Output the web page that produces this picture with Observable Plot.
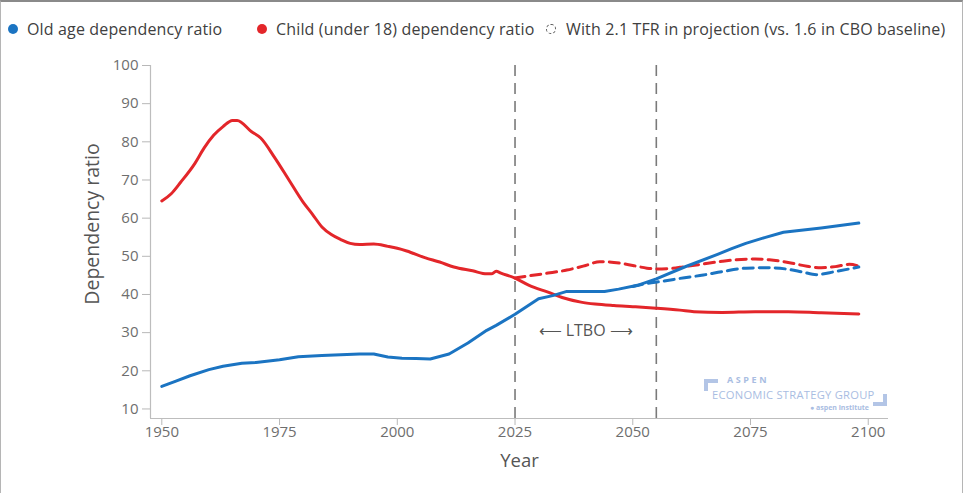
<!DOCTYPE html>
<html><head><meta charset="utf-8">
<script src="https://cdn.jsdelivr.net/npm/d3@7"></script>
<script src="https://cdn.jsdelivr.net/npm/@observablehq/plot@0.6"></script>
<style>
html,body{margin:0;padding:0;background:#fff;}
#wrap{position:relative;width:963px;height:493px;overflow:hidden;font-family:"Open Sans",sans-serif;}
#frame{position:absolute;left:0;top:0;width:963px;height:493px;box-sizing:border-box;border-top:2px solid #8a8a8a;border-left:1px solid #b5b5b5;border-right:1px solid #b5b5b5;pointer-events:none;}
#legend{position:relative;height:50px;}
.li{position:absolute;top:18px;font-size:16px;letter-spacing:0.15px;color:#404040;white-space:nowrap;line-height:22px;}
.dot{position:absolute;width:10px;height:10px;border-radius:50%;top:24px;}
.logo{position:absolute;color:#a9bde2;font-family:"Open Sans",sans-serif;white-space:nowrap;line-height:1;}
</style></head>
<body>
<div id="wrap">
  <div id="legend"></div>
  <div id="chart"></div>
  <div class="logo" style="left:704px;top:379px;width:14px;height:12px;border-left:4px solid #b3c5e6;border-top:4px solid #b3c5e6;box-sizing:border-box;"></div>
  <div class="logo" style="left:727px;top:375px;font-size:9px;font-weight:700;letter-spacing:2.6px;">ASPEN</div>
  <div class="logo" style="left:712px;top:389px;font-size:11.2px;letter-spacing:0.25px;">ECONOMIC STRATEGY GROUP</div>
  <div class="logo" style="left:810px;top:404px;font-size:7px;font-weight:700;">&#9679; aspen institute</div>
  <div class="logo" style="left:873px;top:394px;width:14px;height:12px;border-right:4px solid #b3c5e6;border-bottom:4px solid #b3c5e6;box-sizing:border-box;"></div>
  <div id="frame"></div>
</div>
<script>
// ---- data ----
const childYears = [1950,1952,1954,1957,1959,1961,1963,1965,1966,1969,1971,1974,1977,1980,1982,1984,1986,1988,1990,1992,1995,1998,2000,2002,2006,2009,2012,2016,2019,2020,2021,2022,2025,2028,2032,2035,2039,2042,2046,2050,2055,2060,2063,2069,2076,2083,2090,2098];
const childValues = [64.5,66.4,69.4,74.3,78.4,81.7,84.0,85.6,85.6,82.7,81.0,75.8,70.0,64.2,61.0,57.7,55.7,54.4,53.4,53.1,53.2,52.6,52.1,51.4,49.6,48.5,47.2,46.2,45.4,45.4,46.1,45.6,44.3,42.4,40.6,39.2,38.0,37.5,37.1,36.8,36.4,35.9,35.5,35.3,35.5,35.5,35.2,34.9];

const childTfrYears = [2025,2028,2032,2036,2040,2043,2046,2050,2053,2055,2058,2061,2065,2069,2072,2076,2079,2083,2087,2090,2093,2096,2098];
const childTfrValues = [44.3,44.9,45.6,46.4,47.6,48.6,48.4,47.6,46.9,46.7,46.8,47.3,48.0,48.7,49.1,49.3,49.1,48.4,47.4,47.0,47.3,47.9,47.4];

const oldYears = [1950,1953,1956,1960,1963,1967,1970,1975,1979,1984,1988,1992,1995,1998,2001,2004,2007,2011,2015,2019,2021,2025,2030,2033,2036,2044,2047,2051,2055,2061,2068,2071,2074,2078,2082,2090,2098];
const oldValues = [15.9,17.3,18.7,20.3,21.2,22.0,22.2,22.9,23.7,24.0,24.2,24.4,24.4,23.6,23.3,23.2,23.1,24.4,27.3,30.6,31.9,34.8,38.9,39.7,40.8,40.8,41.4,42.4,44.1,47.2,50.5,52.0,53.4,54.9,56.3,57.4,58.7];

const oldTfrYears = [2050,2053,2056,2061,2065,2069,2074,2079,2083,2086,2089,2093,2098];
const oldTfrValues = [42.1,42.9,43.4,44.4,45.1,46.0,46.9,47.0,46.6,45.9,45.2,46.0,47.2];

const ltboYears = [2025, 2055];
const xTicks = [1950,1975,2000,2025,2050,2075,2100];
const yTicks = [10,20,30,40,50,60,70,80,90,100];
const legendLabels = ["Old age dependency ratio","Child (under 18) dependency ratio","With 2.1 TFR in projection (vs. 1.6 in CBO baseline)"];
const ltboLabel = "LTBO";
const xTitle = "Year";
const yTitle = "Dependency ratio";

// ---- styles ----
const BLUE = "#1b74c2", RED = "#e3262a";
const xDomain = [1947.6, 2104.3];
const yDomain = [7.5, 100];

const zip = (xs, ys) => xs.map((x, i) => ({x, y: ys[i]}));
const oldData = zip(oldYears, oldValues);
const childData = zip(childYears, childValues);
const oldTfr = zip(oldTfrYears, oldTfrValues);
const childTfr = zip(childTfrYears, childTfrValues);

// legend
const legend = document.getElementById("legend");
const legPos = [{c:13, t:27, color:BLUE}, {c:262, t:276, color:RED}, {c:551, t:566, color:null}];
legendLabels.forEach((lab, i) => {
  const p = legPos[i];
  const d = document.createElement("div");
  d.className = "dot";
  d.style.left = (p.c - 5) + "px";
  if (p.color) d.style.background = p.color;
  else { d.style.border = "1.5px dashed #555"; d.style.boxSizing = "border-box"; }
  legend.appendChild(d);
  const t = document.createElement("div");
  t.className = "li";
  t.style.left = p.t + "px";
  t.textContent = lab;
  legend.appendChild(t);
});

const chart = Plot.plot({
  width: 963,
  height: 443,
  marginLeft: 150,
  marginRight: 75,
  marginTop: 15,
  marginBottom: 75,
  x: {domain: xDomain},
  y: {domain: yDomain},
  style: {fontFamily: "Open Sans, sans-serif", fontSize: "14px", background: "white", overflow: "visible"},
  marks: [
    Plot.ruleX(ltboYears, {stroke: "#7a7a7a", strokeWidth: 1.6, strokeDasharray: "11,7"}),
    Plot.axisY({ticks: yTicks, tickSize: 8, tickPadding: 4, stroke: "#b8b8b8", fill: "#6e6e6e", fontSize: 15, label: null}),
    Plot.axisX({ticks: xTicks, tickSize: 7, tickPadding: 1, stroke: "#b8b8b8", fill: "#6e6e6e", fontSize: 15, tickFormat: d => String(d), label: null}),
    Plot.ruleX([xDomain[0]], {stroke: "#bdbdbd", strokeWidth: 1.2}),
    Plot.ruleY([yDomain[0]], {stroke: "#bdbdbd", strokeWidth: 1.2}),
    Plot.line(childTfr, {x: "x", y: "y", stroke: RED, strokeWidth: 3, strokeDasharray: "10,6", curve: "monotone-x"}),
    Plot.line(oldTfr, {x: "x", y: "y", stroke: BLUE, strokeWidth: 3, strokeDasharray: "10,6", curve: "monotone-x"}),
    Plot.line(childData, {x: "x", y: "y", stroke: RED, strokeWidth: 3, curve: "monotone-x"}),
    Plot.line(oldData, {x: "x", y: "y", stroke: BLUE, strokeWidth: 3, curve: "linear"}),
    Plot.text([ltboLabel], {x: () => (ltboYears[0] + ltboYears[1]) / 2, y: () => 30.5, text: d => "\u27F5 " + d + " \u27F6", fill: "#555", fontSize: 16}),
    Plot.text([yTitle], {frameAnchor: "left", textAnchor: "middle", dx: -58, dy: -18, rotate: -90, fill: "#555", fontSize: 19.5}),
    Plot.text([xTitle], {frameAnchor: "bottom", dy: 48, fill: "#555", fontSize: 18.5})
  ]
});
document.getElementById("chart").appendChild(chart);
</script>
</body></html>
